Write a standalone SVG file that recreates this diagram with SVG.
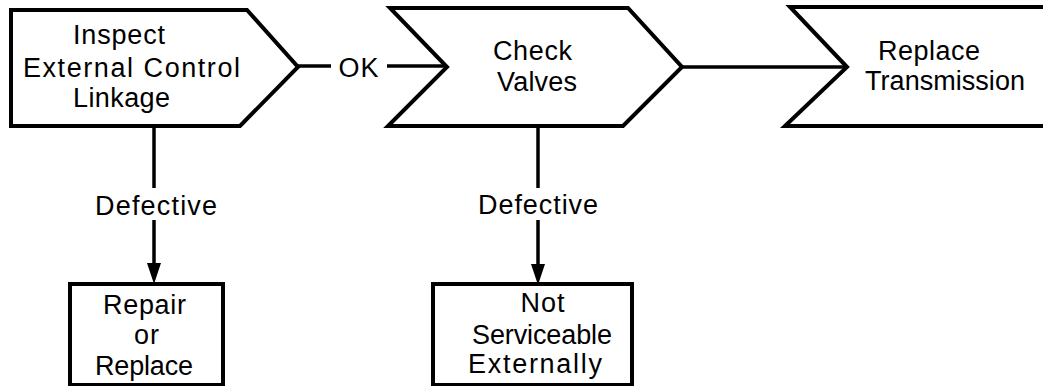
<svg xmlns="http://www.w3.org/2000/svg" width="1043" height="386" viewBox="0 0 1043 386">
  <style>
    .shape { fill: #ffffff; stroke: #000000; stroke-width: 4; stroke-linejoin: miter; }
    .conn { fill: none; stroke: #000000; stroke-width: 3.5; }
    .head { fill: #000000; stroke: none; }
    text { font-family: "Liberation Sans", Arial, sans-serif; font-size: 27px; fill: #000000; }
    .mid { text-anchor: middle; letter-spacing: 1px; }
  </style>
  <rect width="1043" height="386" fill="#ffffff"/>

  <g id="connectors">
    <line class="conn" x1="298" y1="66" x2="331" y2="66"/>
    <line class="conn" x1="387" y1="66" x2="447" y2="66"/>
    <line class="conn" x1="682" y1="67" x2="847" y2="67"/>
    <line class="conn" x1="154" y1="126" x2="154" y2="188"/>
    <line class="conn" x1="154" y1="220" x2="154" y2="266"/>
    <path class="head" d="M147,263 L161,263 L154,284 Z"/>
    <line class="conn" x1="538" y1="126" x2="538" y2="188"/>
    <line class="conn" x1="538" y1="220" x2="538" y2="266"/>
    <path class="head" d="M531,264 L545,264 L538,285 Z"/>
    <text class="mid" x="359" y="77">OK</text>
    <text x="95" y="215" textLength="122" lengthAdjust="spacing">Defective</text>
    <text x="478" y="214" textLength="120" lengthAdjust="spacing">Defective</text>
  </g>

  <g id="node-inspect">
    <polygon class="shape" points="11,10 247,10 298,67 240,126 11,126"/>
    <text x="73" y="44" textLength="92" lengthAdjust="spacing">Inspect</text>
    <text x="23" y="77" textLength="217" lengthAdjust="spacing">External Control</text>
    <text x="73" y="107" textLength="97" lengthAdjust="spacing">Linkage</text>
  </g>

  <g id="node-check">
    <polygon class="shape" points="390,8 628,8 682,67 623,126 388,126 447,67"/>
    <text x="493" y="60" textLength="79" lengthAdjust="spacing">Check</text>
    <text x="497" y="91" textLength="80" lengthAdjust="spacing">Valves</text>
  </g>

  <g id="node-replace-transmission">
    <polygon class="shape" points="790,7 1050,7 1050,126 785,126 847,67"/>
    <text x="878" y="60" textLength="102" lengthAdjust="spacing">Replace</text>
    <text x="865" y="90" textLength="160" lengthAdjust="spacing">Transmission</text>
  </g>

  <g id="node-repair">
    <rect class="shape" x="70" y="284" width="153" height="101"/>
    <text x="103" y="314" textLength="83" lengthAdjust="spacing">Repair</text>
    <text class="mid" x="147" y="344">or</text>
    <text x="95" y="375" textLength="98" lengthAdjust="spacing">Replace</text>
  </g>

  <g id="node-not-serviceable">
    <rect class="shape" x="433" y="284" width="199" height="101"/>
    <text class="mid" x="543" y="312">Not</text>
    <text x="472" y="344" textLength="140" lengthAdjust="spacing">Serviceable</text>
    <text x="468" y="373" textLength="134" lengthAdjust="spacing">Externally</text>
  </g>
</svg>
